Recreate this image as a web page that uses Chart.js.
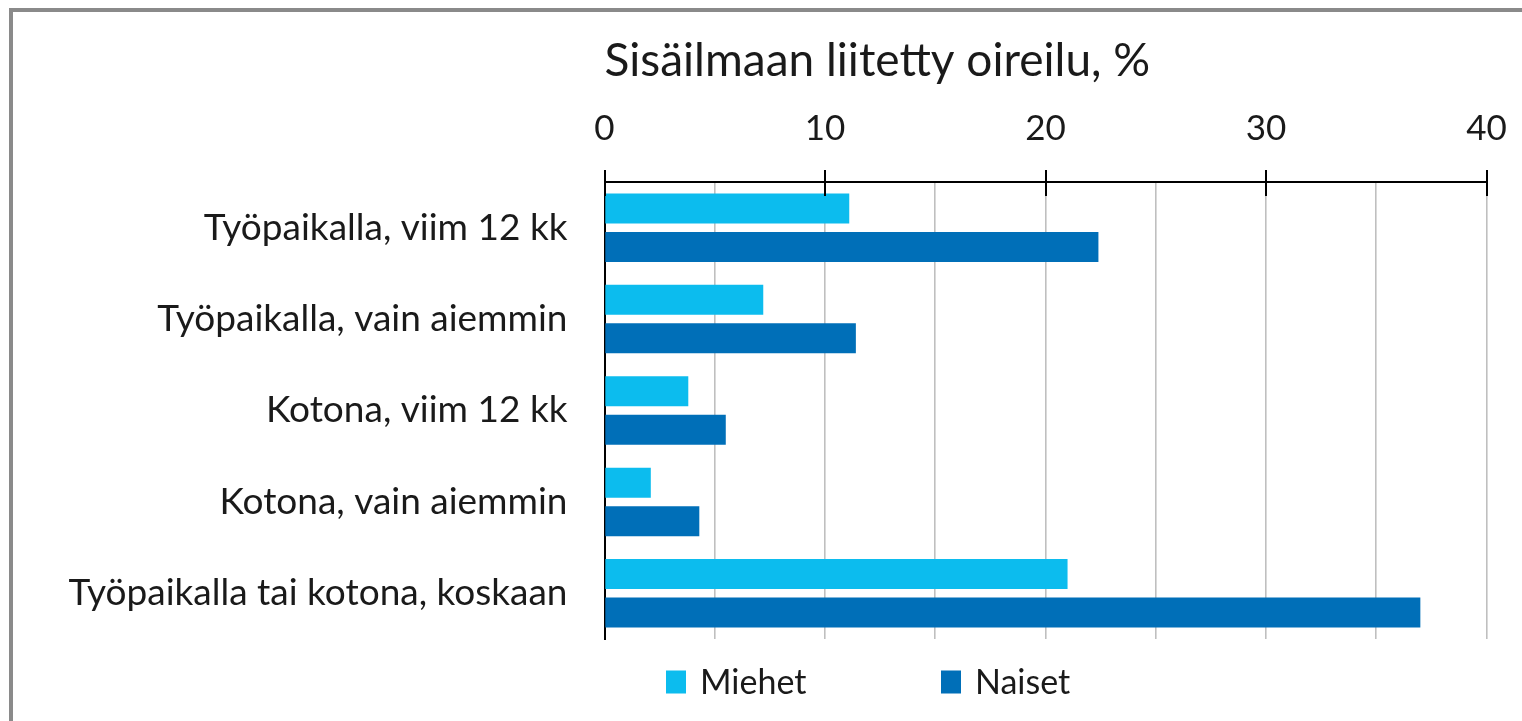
<!DOCTYPE html>
<html><head><meta charset="utf-8">
<script src="https://cdn.jsdelivr.net/npm/chart.js@4/dist/chart.umd.min.js"></script>
<style>
html,body{margin:0;padding:0;background:#fff;overflow:hidden;width:1522px;height:721px;}
#frame{position:absolute;left:9px;top:8px;width:1600px;height:800px;border-top:4px solid #8a8a8a;border-left:4px solid #8a8a8a;pointer-events:none;box-sizing:border-box;}
canvas{position:absolute;left:0;top:0;}
</style></head><body>
<canvas id="c" width="1522" height="721"></canvas>
<div id="frame"></div>
<script>
const categories = [
  'Työpaikalla, viim 12 kk',
  'Työpaikalla, vain aiemmin',
  'Kotona, viim 12 kk',
  'Kotona, vain aiemmin',
  'Työpaikalla tai kotona, koskaan'
];
const seriesNames = ['Miehet', 'Naiset'];
const miehet = [11.1, 7.2, 3.8, 2.1, 21.0];
const naiset = [22.4, 11.4, 5.5, 4.3, 37.0];
const xTickLabels = [0, 10, 20, 30, 40];
const chartTitle = 'Sisäilmaan liitetty oireilu, %';

const FONT = 'Lato';
const TEXT = '#1a1a1a';

const majorTicks = {
  id: 'majorTicks',
  afterDraw(chart) {
    const {ctx, chartArea, scales: {x}} = chart;
    ctx.save();
    ctx.strokeStyle = '#000';
    ctx.lineWidth = 2;
    xTickLabels.forEach(v => {
      const px = Math.round(x.getPixelForValue(v));
      ctx.beginPath();
      ctx.moveTo(px, chartArea.top - 12);
      ctx.lineTo(px, chartArea.top + 14);
      ctx.stroke();
    });
    ctx.restore();
  }
};

const customLegend = {
  id: 'customLegend',
  afterDraw(chart) {
    const {ctx, chartArea} = chart;
    const offsets = [61.5, 336.5];
    ctx.save();
    chart.data.datasets.forEach((ds, i) => {
      const x0 = chartArea.left + offsets[i];
      const yc = chartArea.bottom + 43;
      ctx.fillStyle = ds.backgroundColor;
      ctx.fillRect(x0, yc - 11.5, 20, 23);
      ctx.fillStyle = TEXT;
      ctx.font = '34px ' + FONT;
      ctx.textBaseline = 'middle';
      ctx.textAlign = 'left';
      ctx.fillText(ds.label, x0 + 34, yc + 1);
    });
    ctx.restore();
  }
};

function draw() {
  new Chart(document.getElementById('c'), {
    type: 'bar',
    data: {
      labels: categories,
      datasets: [
        {label: seriesNames[0], data: miehet, backgroundColor: '#0cbcee', borderWidth: 0},
        {label: seriesNames[1], data: naiset, backgroundColor: '#006fb8', borderWidth: 0}
      ]
    },
    options: {
      indexAxis: 'y',
      responsive: false,
      animation: false,
      datasets: {bar: {categoryPercentage: 0.842, barPercentage: 0.78}},
      layout: {padding: {left: 0, right: 35.5, top: 0, bottom: 82}},
      scales: {
        x: {
          position: 'top', min: 0, max: 40,
          ticks: {
            stepSize: 5, autoSkip: false, maxRotation: 0,
            callback: v => xTickLabels.includes(v) ? String(v) : '',
            font: {family: FONT, size: 35}, color: TEXT, padding: 0
          },
          grid: {color: '#bfbfbf', lineWidth: 1.6, drawTicks: true, tickLength: 32, tickColor: 'rgba(0,0,0,0)'},
          border: {display: true, color: '#000', width: 2},
          afterFit: s => { s.height = 92.8; }
        },
        y: {
          grid: {display: false, drawTicks: false},
          border: {display: true, color: '#000', width: 2},
          ticks: {font: {family: FONT, size: 37}, color: TEXT, padding: 37},
          afterFit: s => { s.width = 604.5; }
        }
      },
      plugins: {
        legend: {display: false},
        tooltip: {enabled: false},
        title: {
          display: true, text: chartTitle, align: 'start', fullSize: false,
          font: {family: FONT, size: 46, weight: 'normal'}, color: TEXT,
          padding: {top: 34, bottom: 0}
        }
      }
    },
    plugins: [majorTicks, customLegend]
  });
}
if (document.fonts && document.fonts.load) {
  Promise.all([document.fonts.load('38px Lato')]).then(draw, draw);
} else { draw(); }
</script>
</body></html>
